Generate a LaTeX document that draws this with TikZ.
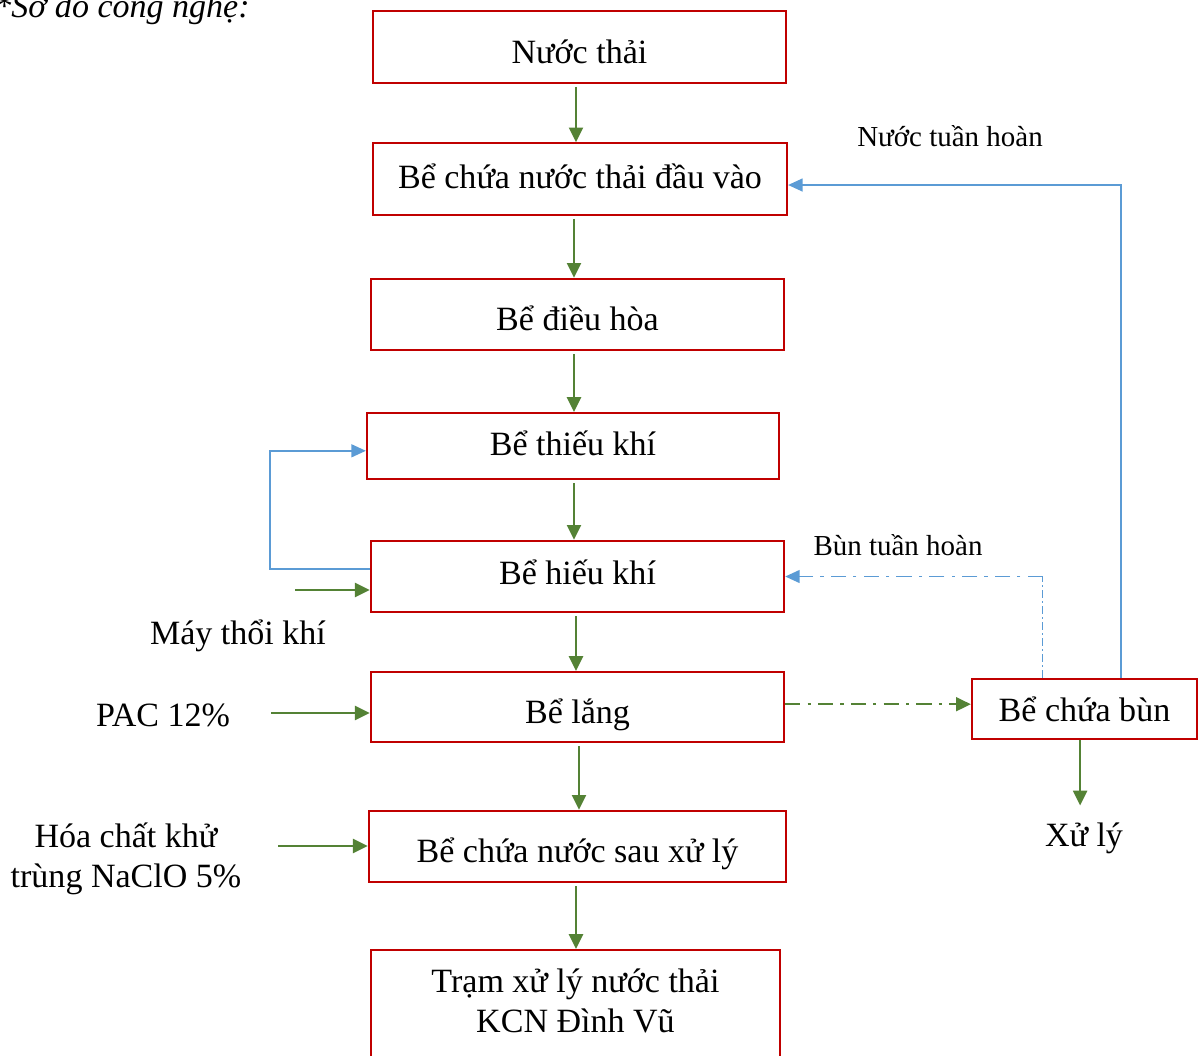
\documentclass[tikz,border=0pt]{standalone}
\usepackage{fontspec}
\setmainfont{Liberation Serif}
\usetikzlibrary{positioning,arrows.meta}
\definecolor{boxred}{HTML}{C00000}
\definecolor{flowgreen}{HTML}{548235}
\definecolor{recblue}{HTML}{5B9BD5}

\begin{document}
\begin{tikzpicture}[x=0.025cm,y=-0.025cm,
    tank/.style={draw=boxred,line width=1.5pt,inner sep=0pt,minimum width=10.33cm,minimum height=1.78cm,anchor=center,align=center,text height=0.625cm,text depth=0.25cm,font=\fontsize{24.2}{28.5}\selectfont},
    lowtext/.style={text height=1.05cm},
    lbl/.style={font=\fontsize{24.2}{28.5}\selectfont,align=center},
    smalllbl/.style={font=\fontsize{20.6}{24}\selectfont},
    flow/.style={color=flowgreen,line width=1.7pt,-{Triangle[length=0.37cm,width=0.35cm]}},
    recyc/.style={color=recblue,line width=1.2pt,-{Triangle[length=0.36cm,width=0.32cm]}},
    dashdot/.style={line width=1.2pt,dash pattern=on 0.38cm off 0.18cm on 0.08cm off 0.18cm},
]
\useasboundingbox (0,0) rectangle (1203,1055);
\node[lbl,font=\fontsize{24.2}{28}\selectfont\itshape,anchor=base west,inner sep=0pt] (title) at (-6,17) {*Sơ đồ công nghệ:};
\node[tank,lowtext] (nuocthai) at (579.5,47)  {Nước thải};
\node[tank,minimum width=10.35cm,text height=0.7cm] (bechua)   at (580,179)   {Bể chứa nước thải đầu vào};
\node[tank,lowtext] (dieuhoa)  at (577.5,314.5) {Bể điều hòa};
\node[tank,minimum width=10.3cm,minimum height=1.65cm,text height=0.7cm] (thieukhi) at (573,446) {Bể thiếu khí};
\node[tank] (hieukhi)  at (577.5,576.5) {Bể hiếu khí};
\node[tank,lowtext,minimum height=1.75cm] (lang) at (577.5,707) {Bể lắng};
\node[tank,lowtext,minimum width=10.43cm] (sauxl) at (577.5,846.5) {Bể chứa nước sau xử lý};
\node[tank,minimum width=10.23cm,minimum height=2.8cm,text height=,text depth=0.25cm] (tram) at (575.5,1006) {Trạm xử lý nước thải\\KCN Đình Vũ};
\node[tank,minimum width=5.63cm,minimum height=1.5cm,text height=0.885cm] (bechuabun) at (1084.5,709) {Bể chứa bùn};
\node[smalllbl] (nth) at (950,136) {Nước tuần hoàn};
\node[smalllbl] (bth) at (898,545) {Bùn tuần hoàn};
\node[lbl] (maythoi) at (238,636) {Máy thổi khí};
\node[lbl] (pac) at (163,715) {PAC 12\%};
\node[lbl] (hoachat) at (126,859) {Hóa chất khử\\trùng NaClO 5\%};
\node[lbl] (xuly) at (1084,838) {Xử lý};
\foreach \i/\j/\d in {nuocthai/bechua/-3.5,bechua/dieuhoa/-6,dieuhoa/thieukhi/-3.5,thieukhi/hieukhi/1,hieukhi/lang/-1.5,lang/sauxl/1.5,sauxl/tram/-1.5}
  \draw[flow,shorten <=0.08cm] ([xshift=\d*0.025cm]\i.south) -- ([xshift=\d*0.025cm]\i.south |- \j.north);
\coordinate (khi) at (295,590);
\coordinate (pacin) at (271,713);
\coordinate (hcin) at (278,846);
\draw[flow] (khi) -- (khi -| hieukhi.west);
\draw[flow] (pacin) -- (pacin -| lang.west);
\draw[flow] (hcin) -- (hcin -| sauxl.west);
\draw[recyc] ([yshift=0.19cm]hieukhi.west) -- ++(-100,0) |- ([yshift=-0.12cm]thieukhi.west);
\draw[recyc] ([xshift=0.91cm]bechuabun.north) |- ([yshift=-0.15cm]bechua.east);
\draw[recblue,line width=0.6pt,dash pattern=on 0.2cm off 0.08cm on 0.04cm off 0.08cm] ([xshift=-1.04cm]bechuabun.north) -- ([xshift=-1.04cm]bechuabun.north |- hieukhi.east) coordinate (goc);
\draw[recyc,dashdot] (goc) -- (hieukhi.east);
\draw[flow,dashdot] ([yshift=0.07cm]lang.east) -- ([yshift=0.07cm]lang.east -| bechuabun.west);
\draw[flow,shorten >=0.3cm] ([xshift=-0.11cm]bechuabun.south) -- ([xshift=-0.11cm]bechuabun.south |- xuly.north);
\end{tikzpicture}
\end{document}
